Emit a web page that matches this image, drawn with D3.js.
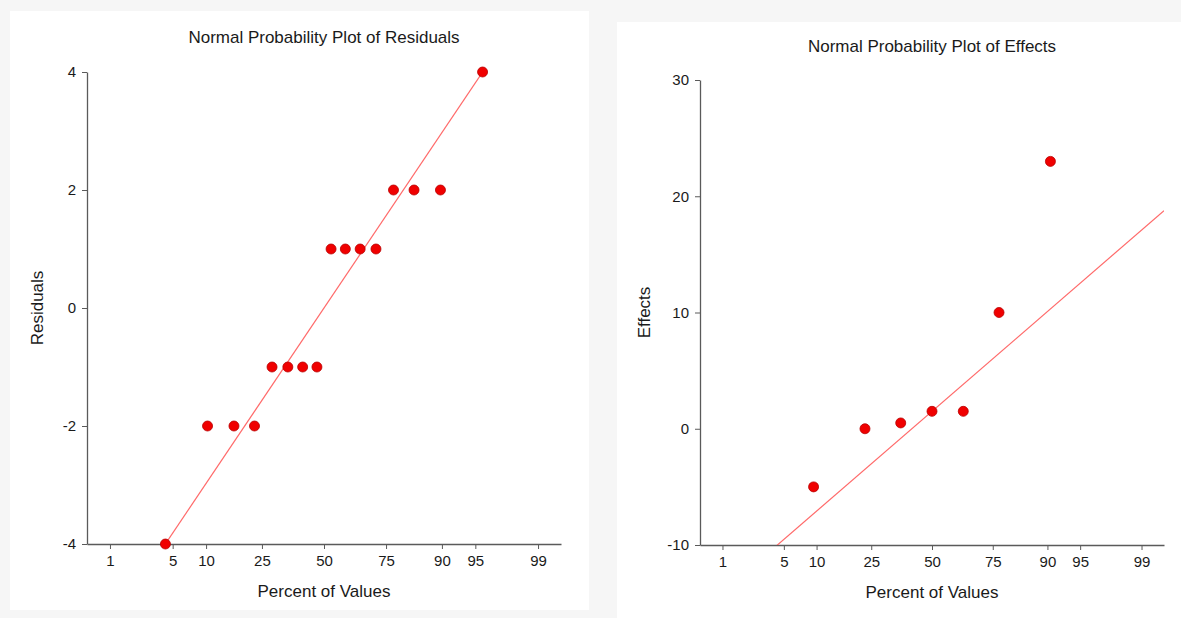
<!DOCTYPE html>
<html>
<head>
<meta charset="utf-8">
<script src="https://cdn.jsdelivr.net/npm/d3@7/dist/d3.min.js"></script>
<style>
  html, body { margin: 0; padding: 0; background: #f6f6f6; }
  svg { display: block; }
  text { font-family: "Liberation Sans", Arial, sans-serif; fill: #1a1a1a; }
</style>
</head>
<body>
<svg id="chart" width="1181" height="618"></svg>
<script>
// Percent tick labels shared by both probability axes
const percentTicks = [1, 5, 10, 25, 50, 75, 90, 95, 99];

// Residuals panel
const residualPercent = [4.24, 10.28, 16.39, 22.50, 28.61, 34.72, 40.83, 46.94,
                         53.06, 59.17, 65.28, 71.39, 77.50, 83.61, 89.72, 95.76];
const residualValues  = [-4, -2, -2, -2, -1, -1, -1, -1, 1, 1, 1, 1, 2, 2, 2, 4];
const residualTicks   = [-4, -2, 0, 2, 4];
const residualLine    = { intercept: 0, slope: 2.32 };

// Effects panel
const effectPercent = [9.43, 22.84, 36.42, 50.00, 63.58, 77.16, 90.57];
const effectValues  = [-5, 0, 0.5, 1.5, 1.5, 10, 23];
const effectTicks   = [-10, 0, 10, 20, 30];
const effectLine    = { intercept: 1.5, slope: 6.7 };

// Inverse standard normal CDF (Acklam's rational approximation)
function qnorm(p) {
  const a = [-3.969683028665376e+01, 2.209460984245205e+02, -2.759285104469687e+02,
             1.383577518672690e+02, -3.066479806614716e+01, 2.506628277459239e+00];
  const b = [-5.447609879822406e+01, 1.615858368580409e+02, -1.556989798598866e+02,
             6.680131188771972e+01, -1.328068155288572e+01];
  const c = [-7.784894002430293e-03, -3.223964580411365e-01, -2.400758277161838e+00,
             -2.549671010336962e+00, 4.374664141464968e+00, 2.938163982698783e+00];
  const d = [7.784695709041462e-03, 3.224671290700398e-01, 2.445134137142996e+00,
             3.754408661907416e+00];
  const pl = 0.02425, ph = 1 - pl;
  let q, r;
  if (p < pl) {
    q = Math.sqrt(-2 * Math.log(p));
    return (((((c[0]*q+c[1])*q+c[2])*q+c[3])*q+c[4])*q+c[5]) /
           ((((d[0]*q+d[1])*q+d[2])*q+d[3])*q+1);
  } else if (p <= ph) {
    q = p - 0.5; r = q * q;
    return (((((a[0]*r+a[1])*r+a[2])*r+a[3])*r+a[4])*r+a[5])*q /
           (((((b[0]*r+b[1])*r+b[2])*r+b[3])*r+b[4])*r+1);
  } else {
    q = Math.sqrt(-2 * Math.log(1 - p));
    return -(((((c[0]*q+c[1])*q+c[2])*q+c[3])*q+c[4])*q+c[5]) /
            ((((d[0]*q+d[1])*q+d[2])*q+d[3])*q+1);
  }
}

const svg = d3.select("#chart");
const zLo = qnorm(0.005), zHi = qnorm(0.995);

function drawPanel(cfg) {
  const g = svg.append("g");

  g.append("rect")
    .attr("x", cfg.panel[0]).attr("y", cfg.panel[1])
    .attr("width", cfg.panel[2]).attr("height", cfg.panel[3])
    .attr("fill", "#ffffff");

  const x = d3.scaleLinear().domain([zLo, zHi]).range([cfg.left, cfg.right]);
  const y = d3.scaleLinear().domain(d3.extent(cfg.yTicks)).range([cfg.bottom, cfg.top]);

  const clipId = "clip-" + cfg.id;
  g.append("clipPath").attr("id", clipId)
    .append("rect")
    .attr("x", cfg.left).attr("y", cfg.top)
    .attr("width", cfg.right - cfg.left).attr("height", cfg.bottom - cfg.top);

  // Axes
  const xAxis = d3.axisBottom(x)
    .tickValues(percentTicks.map(p => qnorm(p / 100)))
    .tickFormat((d, i) => String(percentTicks[i]))
    .tickSizeInner(5).tickSizeOuter(0).tickPadding(6);
  const yAxis = d3.axisLeft(y)
    .tickValues(cfg.yTicks)
    .tickFormat(d => String(d))
    .tickSizeInner(5).tickSizeOuter(0).tickPadding(6);

  const gx = g.append("g").attr("transform", `translate(0,${cfg.bottom})`).call(xAxis);
  const gy = g.append("g").attr("transform", `translate(${cfg.left},0)`).call(yAxis);
  [gx, gy].forEach(a => {
    a.attr("font-size", 15).attr("font-family", '"Liberation Sans", Arial, sans-serif');
    a.select(".domain").attr("stroke", "#5a5a5a").attr("stroke-width", 1.3);
    a.selectAll(".tick line").attr("stroke", "#5a5a5a").attr("stroke-width", 1);
    a.selectAll(".tick text").attr("fill", "#1a1a1a");
  });

  // Reference line
  const zEnds = [zLo, zHi];
  g.append("line")
    .attr("clip-path", `url(#${clipId})`)
    .attr("x1", x(zEnds[0])).attr("y1", y(cfg.line.intercept + cfg.line.slope * zEnds[0]))
    .attr("x2", x(zEnds[1])).attr("y2", y(cfg.line.intercept + cfg.line.slope * zEnds[1]))
    .attr("stroke", "#ff6a6a").attr("stroke-width", 1.2);

  // Points
  g.selectAll("circle.pt")
    .data(cfg.values.map((v, i) => ({ p: cfg.percent[i], v })))
    .join("circle")
    .attr("class", "pt")
    .attr("cx", d => x(qnorm(d.p / 100)))
    .attr("cy", d => y(d.v))
    .attr("r", 5)
    .attr("fill", "#f00000")
    .attr("stroke", "#b80000")
    .attr("stroke-width", 0.8);

  // Titles
  const cx = x(0);
  g.append("text")
    .attr("x", cx).attr("y", cfg.titleY)
    .attr("text-anchor", "middle").attr("font-size", 17)
    .text(cfg.title);
  g.append("text")
    .attr("x", cx).attr("y", cfg.xLabelY)
    .attr("text-anchor", "middle").attr("font-size", 17)
    .text("Percent of Values");
  g.append("text")
    .attr("transform", `translate(${cfg.yLabelX},${(cfg.top + cfg.bottom) / 2}) rotate(-90)`)
    .attr("text-anchor", "middle").attr("font-size", 17)
    .text(cfg.yLabel);
}

drawPanel({
  id: "residuals",
  panel: [10, 11, 579, 599],
  left: 87, right: 561, top: 72, bottom: 544,
  yTicks: residualTicks,
  percent: residualPercent, values: residualValues,
  line: residualLine,
  title: "Normal Probability Plot of Residuals",
  yLabel: "Residuals",
  titleY: 43, xLabelY: 597, yLabelX: 43
});

drawPanel({
  id: "effects",
  panel: [617, 22, 570, 600],
  left: 700, right: 1164, top: 80, bottom: 545,
  yTicks: effectTicks,
  percent: effectPercent, values: effectValues,
  line: effectLine,
  title: "Normal Probability Plot of Effects",
  yLabel: "Effects",
  titleY: 52, xLabelY: 598, yLabelX: 650
});
</script>
</body>
</html>
